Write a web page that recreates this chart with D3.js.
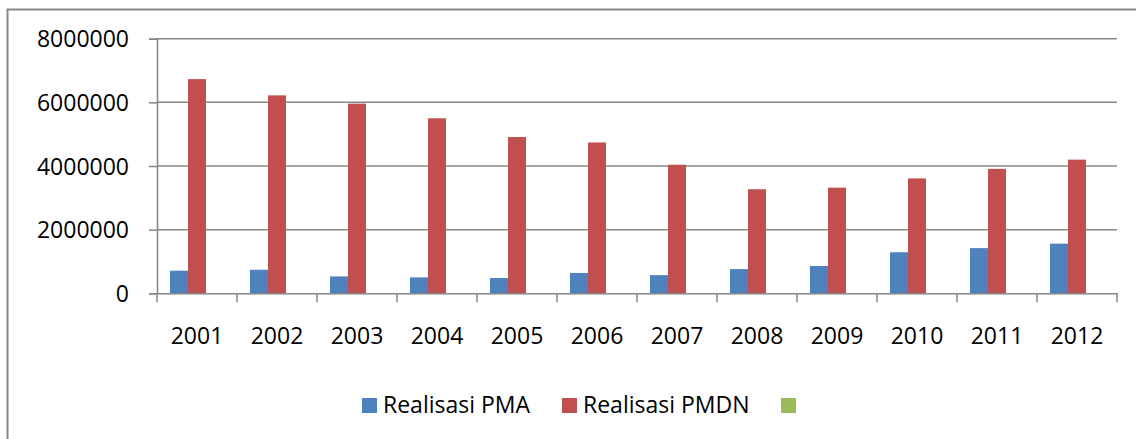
<!DOCTYPE html>
<html>
<head>
<meta charset="utf-8">
<script src="https://cdn.jsdelivr.net/npm/d3@7"></script>
<style>
html,body{margin:0;padding:0;background:#fff;}
svg{display:block;}
text{font-family:"Open Sans",sans-serif;fill:#000;}
</style>
</head>
<body>
<svg id="chart" width="1136" height="439"></svg>
<script>
const years = ["2001","2002","2003","2004","2005","2006","2007","2008","2009","2010","2011","2012"];
const pma  = [710000,740000,530000,500000,480000,640000,570000,760000,860000,1290000,1420000,1560000];
const pmdn = [6730000,6220000,5960000,5500000,4910000,4740000,4040000,3270000,3320000,3610000,3910000,4200000];
const third = [0,0,0,0,0,0,0,0,0,0,0,0];
const seriesNames = ["Realisasi PMA","Realisasi PMDN",""];
const seriesColors = ["#4f81bd","#c0504d","#9bbb59"];
const yTicks = [0,2000000,4000000,6000000,8000000];

const svg = d3.select("#chart");
const W = 1136, H = 439;
const FS = "23px";
const m = {left:157, right:W-1117, top:38.7, bottom:H-293.3};

// outer frame
svg.append("path").attr("d","M7.5,439 V9.5 H1136")
  .attr("fill","none").attr("stroke","#878787").attr("stroke-width",2);

const x = d3.scaleBand().domain(years).range([m.left, W-m.right]).paddingInner(0).paddingOuter(0);
const y = d3.scaleLinear().domain([0,8000000]).range([H-m.bottom, m.top]);
const xs = d3.scaleBand().domain([0,1,2]).range([13, x.bandwidth()-13]).paddingInner(0).paddingOuter(0);

// gridlines
svg.append("g").selectAll("line").data(yTicks.filter(d=>d>0)).join("line")
  .attr("x1",m.left).attr("x2",W-m.right)
  .attr("y1",d=>y(d)).attr("y2",d=>y(d))
  .attr("stroke","#868686").attr("stroke-width",1.5);

// bars
const data = [pma,pmdn,third];
data.forEach((vals,si)=>{
  svg.append("g").selectAll("rect").data(vals).join("rect")
    .attr("x",(d,i)=>x(years[i])+xs(si))
    .attr("width",xs.bandwidth())
    .attr("y",d=>y(d))
    .attr("height",d=>y(0)-y(d))
    .attr("fill",seriesColors[si]);
});

// y axis
const yAxis = d3.axisLeft(y).tickValues(yTicks).tickSize(8).tickPadding(20).tickFormat(d3.format("d"));
const gy = svg.append("g").attr("transform",`translate(${m.left},0)`).call(yAxis);
gy.select(".domain").attr("stroke","#868686").attr("stroke-width",1.5);
gy.selectAll(".tick line").attr("stroke","#868686").attr("stroke-width",1.5);
gy.selectAll(".tick text").attr("font-size",FS).attr("font-family","'Open Sans',sans-serif").attr("fill","#000").attr("dy","0.36em");

// x axis
const xAxis = d3.axisBottom(x).tickSize(0).tickPadding(0);
const gx = svg.append("g").attr("transform",`translate(0,${y(0)})`).call(xAxis);
gx.select(".domain").attr("stroke","#868686").attr("stroke-width",1.5);
gx.selectAll(".tick text").attr("font-size",FS).attr("font-family","'Open Sans',sans-serif").attr("fill","#000")
  .attr("dy",null).attr("y",51);
// category boundary ticks
const bounds = years.map(d=>x(d)).concat([W-m.right]);
gx.append("g").selectAll("line").data(bounds).join("line")
  .attr("x1",d=>d).attr("x2",d=>d).attr("y1",0).attr("y2",9)
  .attr("stroke","#868686").attr("stroke-width",1.5);

// legend
const legX = [362,562,781];
const leg = svg.append("g");
seriesNames.forEach((n,i)=>{
  leg.append("rect").attr("x",legX[i]).attr("y",398).attr("width",15).attr("height",15).attr("fill",seriesColors[i]);
  if(n) leg.append("text").attr("x",legX[i]+21).attr("y",413).attr("font-size",FS).text(n);
});
</script>
</body>
</html>
